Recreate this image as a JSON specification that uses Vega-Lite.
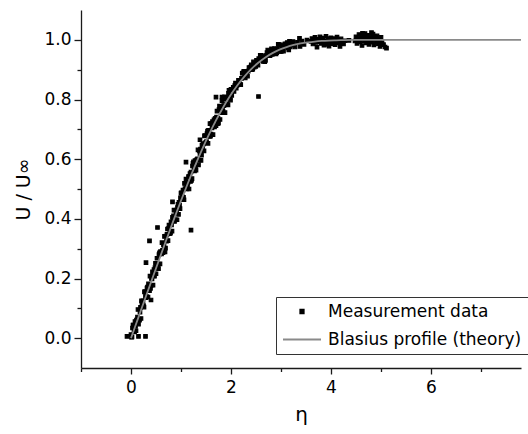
{
  "$schema": "https://vega.github.io/schema/vega-lite/v6.json",
  "width": 440,
  "height": 358,
  "autosize": {"type": "none"},
  "padding": {"left": 81, "top": 10, "right": 7, "bottom": 66},
  "background": "white",
  "config": {
    "view": {"stroke": null},
    "font": "DejaVu Sans",
    "axis": {"grid": false, "domainColor": "#1a1a1a", "domainWidth": 1.3, "tickColor": "#1a1a1a", "tickWidth": 1.3, "labelColor": "black", "titleColor": "black", "labelFont": "DejaVu Sans", "titleFont": "DejaVu Sans", "labelFontSize": 17, "titleFontWeight": "normal", "labelFlush": false, "labelOverlap": false},
    "legend": {"labelFont": "DejaVu Sans", "labelFontSize": 17, "labelColor": "black"}
  },
  "datasets": {
    "meas": [
      {"e":0,"u":0.012},{"e":0.02,"u":0.004},{"e":0.04,"u":0.044},{"e":0.06,"u":0.023},{"e":0.08,"u":0.056},{"e":0.10,"u":0.025},{"e":0.12,"u":0.062},{"e":0.14,"u":0.096},{"e":0.16,"u":0.063},{"e":0.18,"u":0.087},{"e":0.20,"u":0.066},{"e":0.22,"u":0.118},{"e":0.24,"u":0.125},{"e":0.26,"u":0.104},{"e":0.28,"u":0.156},{"e":0.30,"u":0.136},{"e":0.32,"u":0.168},{"e":0.34,"u":0.138},{"e":0.36,"u":0.175},{"e":0.38,"u":0.208},{"e":0.40,"u":0.176},{"e":0.42,"u":0.199},{"e":0.44,"u":0.178},{"e":0.46,"u":0.230},{"e":0.48,"u":0.237},{"e":0.50,"u":0.216},{"e":0.52,"u":0.268},{"e":0.54,"u":0.248},{"e":0.56,"u":0.280},{"e":0.58,"u":0.249},{"e":0.60,"u":0.286},{"e":0.62,"u":0.320},{"e":0.64,"u":0.287},{"e":0.66,"u":0.310},{"e":0.68,"u":0.289},{"e":0.70,"u":0.342},{"e":0.72,"u":0.348},{"e":0.74,"u":0.327},{"e":0.76,"u":0.379},{"e":0.78,"u":0.358},{"e":0.80,"u":0.390},{"e":0.82,"u":0.359},{"e":0.84,"u":0.396},{"e":0.86,"u":0.429},{"e":0.88,"u":0.396},{"e":0.90,"u":0.419},{"e":0.92,"u":0.397},{"e":0.94,"u":0.449},{"e":0.96,"u":0.455},{"e":0.98,"u":0.434},{"e":1.00,"u":0.486},{"e":1.02,"u":0.464},{"e":1.04,"u":0.496},{"e":1.06,"u":0.464},{"e":1.08,"u":0.501},{"e":1.10,"u":0.533},{"e":1.12,"u":0.500},{"e":1.14,"u":0.522},{"e":1.16,"u":0.500},{"e":1.18,"u":0.552},{"e":1.20,"u":0.557},{"e":1.22,"u":0.535},{"e":1.24,"u":0.586},{"e":1.26,"u":0.564},{"e":1.28,"u":0.595},{"e":1.30,"u":0.563},{"e":1.32,"u":0.599},{"e":1.34,"u":0.631},{"e":1.36,"u":0.597},{"e":1.38,"u":0.618},{"e":1.40,"u":0.596},{"e":1.42,"u":0.647},{"e":1.44,"u":0.651},{"e":1.46,"u":0.628},{"e":1.48,"u":0.679},{"e":1.50,"u":0.656},{"e":1.52,"u":0.686},{"e":1.54,"u":0.653},{"e":1.56,"u":0.688},{"e":1.58,"u":0.719},{"e":1.60,"u":0.684},{"e":1.62,"u":0.705},{"e":1.64,"u":0.682},{"e":1.66,"u":0.732},{"e":1.68,"u":0.735},{"e":1.70,"u":0.712},{"e":1.72,"u":0.761},{"e":1.74,"u":0.737},{"e":1.76,"u":0.766},{"e":1.78,"u":0.733},{"e":1.80,"u":0.767},{"e":1.82,"u":0.796},{"e":1.84,"u":0.760},{"e":1.86,"u":0.780},{"e":1.88,"u":0.756},{"e":1.90,"u":0.804},{"e":1.92,"u":0.807},{"e":1.94,"u":0.782},{"e":1.96,"u":0.831},{"e":1.98,"u":0.806},{"e":2.00,"u":0.834},
      {"e":0.01,"u":0.003},{"e":0.05,"u":0.044},{"e":0.09,"u":0.039},{"e":0.13,"u":0.071},{"e":0.17,"u":0.060},{"e":0.21,"u":0.125},{"e":0.25,"u":0.109},{"e":0.29,"u":0.140},{"e":0.33,"u":0.171},{"e":0.37,"u":0.159},{"e":0.41,"u":0.200},{"e":0.45,"u":0.209},{"e":0.49,"u":0.251},{"e":0.53,"u":0.238},{"e":0.57,"u":0.286},{"e":0.61,"u":0.282},{"e":0.65,"u":0.313},{"e":0.69,"u":0.302},{"e":0.73,"u":0.366},{"e":0.77,"u":0.350},{"e":0.81,"u":0.380},{"e":0.85,"u":0.410},{"e":0.89,"u":0.397},{"e":0.93,"u":0.438},{"e":0.97,"u":0.445},{"e":1.01,"u":0.487},{"e":1.05,"u":0.472},{"e":1.09,"u":0.519},{"e":1.13,"u":0.513},{"e":1.17,"u":0.542},{"e":1.21,"u":0.529},{"e":1.25,"u":0.591},{"e":1.29,"u":0.573},{"e":1.33,"u":0.601},{"e":1.37,"u":0.628},{"e":1.41,"u":0.613},{"e":1.45,"u":0.651},{"e":1.49,"u":0.655},{"e":1.53,"u":0.694},{"e":1.57,"u":0.676},{"e":1.61,"u":0.720},{"e":1.65,"u":0.710},{"e":1.69,"u":0.737},{"e":1.73,"u":0.719},{"e":1.77,"u":0.778},{"e":1.81,"u":0.756},{"e":1.85,"u":0.779},{"e":1.89,"u":0.803},{"e":1.93,"u":0.783},{"e":1.97,"u":0.816},
      {"e":0.03,"u":0.034},{"e":0.07,"u":0.021},{"e":0.11,"u":0.060},{"e":0.15,"u":0.047},{"e":0.19,"u":0.103},{"e":0.23,"u":0.108},{"e":0.27,"u":0.155},{"e":0.31,"u":0.139},{"e":0.35,"u":0.182},{"e":0.39,"u":0.167},{"e":0.43,"u":0.222},{"e":0.47,"u":0.208},{"e":0.51,"u":0.247},{"e":0.55,"u":0.233},{"e":0.59,"u":0.290},{"e":0.63,"u":0.294},{"e":0.67,"u":0.341},{"e":0.71,"u":0.325},{"e":0.75,"u":0.367},{"e":0.79,"u":0.352},{"e":0.83,"u":0.405},{"e":0.87,"u":0.391},{"e":0.91,"u":0.429},{"e":0.95,"u":0.415},{"e":0.99,"u":0.470},{"e":1.03,"u":0.474},{"e":1.07,"u":0.519},{"e":1.11,"u":0.502},{"e":1.15,"u":0.542},{"e":1.19,"u":0.525},{"e":1.23,"u":0.577},{"e":1.27,"u":0.561},{"e":1.31,"u":0.597},{"e":1.35,"u":0.581},{"e":1.39,"u":0.634},{"e":1.43,"u":0.635},{"e":1.47,"u":0.678},{"e":1.51,"u":0.659},{"e":1.55,"u":0.697},{"e":1.59,"u":0.677},{"e":1.63,"u":0.726},{"e":1.67,"u":0.708},{"e":1.71,"u":0.741},{"e":1.75,"u":0.721},{"e":1.79,"u":0.772},{"e":1.83,"u":0.769},{"e":1.87,"u":0.809},{"e":1.91,"u":0.786},{"e":1.95,"u":0.821},{"e":1.99,"u":0.798},
      {"e":2.03,"u":0.834},{"e":2.06,"u":0.827},{"e":2.09,"u":0.855},{"e":2.12,"u":0.847},{"e":2.15,"u":0.864},{"e":2.18,"u":0.850},{"e":2.21,"u":0.871},{"e":2.24,"u":0.889},{"e":2.27,"u":0.875},{"e":2.30,"u":0.891},{"e":2.33,"u":0.878},{"e":2.36,"u":0.907},{"e":2.39,"u":0.909},{"e":2.42,"u":0.900},{"e":2.45,"u":0.926},{"e":2.48,"u":0.917},{"e":2.51,"u":0.931},{"e":2.54,"u":0.915},{"e":2.57,"u":0.933},{"e":2.60,"u":0.948},{"e":2.63,"u":0.932},{"e":2.66,"u":0.946},{"e":2.69,"u":0.931},{"e":2.72,"u":0.957},{"e":2.75,"u":0.958},{"e":2.78,"u":0.947},{"e":2.81,"u":0.970},{"e":2.84,"u":0.958},{"e":2.87,"u":0.971},{"e":2.90,"u":0.953},{"e":2.93,"u":0.969},{"e":2.96,"u":0.984},{"e":2.99,"u":0.966},{"e":3.02,"u":0.978},{"e":3.05,"u":0.962},{"e":3.08,"u":0.987},{"e":3.11,"u":0.986},{"e":3.14,"u":0.973},{"e":3.17,"u":0.995},{"e":3.20,"u":0.982},{"e":3.24,"u":0.994},{"e":3.28,"u":0.976},
      {"e":2.015,"u":0.814},{"e":2.075,"u":0.847},{"e":2.135,"u":0.853},{"e":2.195,"u":0.850},{"e":2.255,"u":0.894},{"e":2.315,"u":0.886},{"e":2.375,"u":0.905},{"e":2.435,"u":0.902},{"e":2.495,"u":0.911},{"e":2.555,"u":0.937},{"e":2.615,"u":0.936},{"e":2.675,"u":0.927},{"e":2.735,"u":0.966},{"e":2.795,"u":0.952},{"e":2.855,"u":0.966},{"e":2.915,"u":0.957},{"e":2.975,"u":0.961},{"e":3.035,"u":0.983},{"e":3.095,"u":0.979},{"e":3.155,"u":0.966},
      {"e":2.045,"u":0.841},{"e":2.105,"u":0.838},{"e":2.165,"u":0.863},{"e":2.225,"u":0.888},{"e":2.285,"u":0.872},{"e":2.345,"u":0.895},{"e":2.405,"u":0.916},{"e":2.465,"u":0.908},{"e":2.525,"u":0.929},{"e":2.585,"u":0.948},{"e":2.645,"u":0.928},{"e":2.705,"u":0.947},{"e":2.765,"u":0.963},{"e":2.825,"u":0.951},{"e":2.885,"u":0.968},{"e":2.945,"u":0.985},{"e":3.005,"u":0.961},{"e":3.065,"u":0.977},{"e":3.125,"u":0.991},{"e":3.185,"u":0.976},{"e":3.245,"u":0.990},
      {"e":3.33,"u":0.992},{"e":3.38,"u":0.978},{"e":3.42,"u":0.996},{"e":3.46,"u":0.985},{"e":3.52,"u":0.999},{"e":3.37,"u":1.005},
      {"e":3.60,"u":0.995},{"e":3.62,"u":1.004},{"e":3.64,"u":0.986},{"e":3.66,"u":0.999},{"e":3.68,"u":1.008},{"e":3.70,"u":0.991},{"e":3.72,"u":0.975},{"e":3.74,"u":1.002},{"e":3.76,"u":0.994},{"e":3.78,"u":1.010},{"e":3.80,"u":0.988},{"e":3.82,"u":0.998},{"e":3.84,"u":1.006},{"e":3.86,"u":0.982},{"e":3.88,"u":0.996},{"e":3.90,"u":1.012},{"e":3.92,"u":0.990},{"e":3.94,"u":1.001},{"e":3.96,"u":0.979},{"e":3.98,"u":0.995},{"e":4.00,"u":1.007},{"e":4.02,"u":0.987},{"e":4.04,"u":0.999},{"e":4.06,"u":1.004},{"e":4.08,"u":0.984},{"e":4.10,"u":0.996},{"e":4.12,"u":1.009},{"e":4.14,"u":0.990},{"e":4.16,"u":0.998},{"e":4.18,"u":0.978},{"e":4.20,"u":1.003},{"e":4.22,"u":0.992},{"e":4.25,"u":0.986},{"e":4.28,"u":0.997},{"e":3.65,"u":0.992},{"e":3.73,"u":0.998},{"e":3.81,"u":1.003},{"e":3.89,"u":0.985},{"e":3.97,"u":1.004},{"e":4.05,"u":0.993},{"e":4.13,"u":1.000},{"e":4.21,"u":0.988},{"e":3.87,"u":0.993},{"e":4.01,"u":0.990},{"e":3.69,"u":1.000},{"e":4.09,"u":1.002},{"e":4.36,"u":0.998},
      {"e":4.48,"u":0.996},{"e":4.50,"u":1.010},{"e":4.52,"u":0.988},{"e":4.54,"u":1.004},{"e":4.56,"u":1.018},{"e":4.58,"u":0.993},{"e":4.60,"u":1.006},{"e":4.62,"u":0.981},{"e":4.64,"u":1.012},{"e":4.66,"u":0.997},{"e":4.68,"u":1.021},{"e":4.70,"u":0.990},{"e":4.72,"u":1.003},{"e":4.74,"u":1.015},{"e":4.76,"u":0.985},{"e":4.78,"u":0.999},{"e":4.80,"u":1.010},{"e":4.82,"u":0.992},{"e":4.84,"u":1.019},{"e":4.86,"u":0.983},{"e":4.88,"u":1.005},{"e":4.90,"u":0.995},{"e":4.92,"u":1.013},{"e":4.94,"u":0.987},{"e":4.96,"u":1.001},{"e":4.98,"u":0.978},{"e":5.00,"u":1.008},{"e":5.02,"u":0.991},{"e":5.05,"u":0.984},{"e":5.08,"u":0.976},{"e":5.11,"u":0.972},{"e":4.57,"u":1.000},{"e":4.67,"u":1.008},{"e":4.77,"u":1.002},{"e":4.87,"u":1.011},{"e":4.97,"u":0.994},{"e":4.53,"u":0.999},{"e":4.73,"u":0.991},{"e":4.83,"u":1.003},{"e":4.93,"u":1.000},{"e":4.63,"u":1.022},{"e":4.81,"u":1.024},
      {"e":-0.08,"u":0.006},{"e":0.15,"u":0.006},{"e":0.29,"u":0.006},{"e":0.37,"u":0.326},{"e":0.53,"u":0.371},{"e":0.30,"u":0.253},{"e":1.20,"u":0.362},{"e":0.40,"u":0.128},{"e":1.10,"u":0.590},{"e":0.83,"u":0.457},{"e":1.38,"u":0.665},{"e":1.70,"u":0.808},{"e":1.82,"u":0.808},{"e":2.55,"u":0.810}
    ],
    "theory": [
      {"e":0,"u":0},{"e":0.1414,"u":0.0664},{"e":0.2828,"u":0.1328},{"e":0.4243,"u":0.1989},{"e":0.5657,"u":0.2647},{"e":0.7071,"u":0.3298},{"e":0.8485,"u":0.3938},{"e":0.9899,"u":0.4563},{"e":1.1314,"u":0.5168},{"e":1.2728,"u":0.5748},{"e":1.4142,"u":0.6298},{"e":1.5556,"u":0.6813},{"e":1.6971,"u":0.7290},{"e":1.8385,"u":0.7725},{"e":1.9799,"u":0.8115},{"e":2.1213,"u":0.8461},{"e":2.2627,"u":0.8761},{"e":2.4042,"u":0.9018},{"e":2.5456,"u":0.9233},{"e":2.6870,"u":0.9411},{"e":2.8284,"u":0.9555},{"e":2.9698,"u":0.9670},{"e":3.1113,"u":0.9759},{"e":3.2527,"u":0.9827},{"e":3.3941,"u":0.9878},{"e":3.5355,"u":0.9916},{"e":3.6770,"u":0.9943},{"e":3.8184,"u":0.9962},{"e":3.9598,"u":0.9975},{"e":4.1012,"u":0.9984},{"e":4.2426,"u":0.9990},{"e":4.5255,"u":0.9996},{"e":4.8083,"u":0.9999},{"e":5.0912,"u":1.0},{"e":5.6569,"u":1.0},{"e":7.8,"u":1.0}
    ]
  },
  "encoding": {
    "x": {"field": "e", "type": "quantitative", "scale": {"domain": [-1, 7.8], "nice": false, "zero": false},
      "axis": {"title": "η", "titleFontSize": 20, "titlePadding": 9, "values": [-1,0,1,2,3,4,5,6,7], "labelExpr": "datum.value % 2 == 0 ? format(datum.value, 'd') : ''", "tickSize": {"condition": {"test": "datum.value % 2 == 0", "value": 6}, "value": 3.5}, "labelPadding": 5}},
    "y": {"field": "u", "type": "quantitative", "scale": {"domain": [-0.1, 1.1], "nice": false, "zero": false},
      "axis": {"title": "U / U∞", "titleFontSize": 19, "titlePadding": 10, "values": [0,0.1,0.2,0.3,0.4,0.5,0.6,0.7,0.8,0.9,1.0], "labelExpr": "round(datum.value*10) % 2 == 0 ? format(datum.value, '.1f') : ''", "tickSize": {"condition": {"test": "round(datum.value*10) % 2 == 0", "value": 7}, "value": 4}, "labelPadding": 3}}
  },
  "layer": [
    {
      "data": {"name": "meas"},
      "mark": {"type": "point", "filled": false, "fill": "black", "fillOpacity": 1, "strokeWidth": 1.2, "opacity": 1},
      "encoding": {
        "color": {"datum": "Measurement data", "type": "nominal",
          "scale": {"domain": ["Measurement data", "Blasius profile (theory)"], "range": ["black", "#8a8a8a"]},
          "legend": {"title": null, "orient": "none", "legendX": 195, "legendY": 287, "direction": "vertical",
            "strokeColor": "#333", "fillColor": "white", "padding": 6, "rowPadding": 10, "clipHeight": 17,
            "labelOffset": 6, "symbolStrokeWidth": 1.8, "labelLimit": 400, "symbolOpacity": 1}
        },
        "shape": {"datum": "Measurement data", "type": "nominal",
          "scale": {"domain": ["Measurement data", "Blasius profile (theory)"], "range": ["square", "stroke"]},
          "legend": {"title": null, "orient": "none", "legendX": 195, "legendY": 287, "direction": "vertical",
            "strokeColor": "#333", "fillColor": "white", "padding": 6, "rowPadding": 10, "clipHeight": 17,
            "labelOffset": 6, "symbolStrokeWidth": 1.8, "labelLimit": 400, "symbolOpacity": 1}
        },
        "size": {"datum": "Measurement data", "type": "nominal",
          "scale": {"type": "point", "padding": 0, "domain": ["Measurement data", "Blasius profile (theory)"], "range": [12, 1444]},
          "legend": {"title": null, "orient": "none", "legendX": 195, "legendY": 287, "direction": "vertical",
            "strokeColor": "#333", "fillColor": "white", "padding": 6, "rowPadding": 10, "clipHeight": 17,
            "labelOffset": 6, "symbolStrokeWidth": 1.8, "labelLimit": 400, "symbolOpacity": 1}
        }
      }
    },
    {
      "data": {"name": "theory"},
      "mark": {"type": "line", "strokeWidth": 1.8, "interpolate": "monotone"},
      "encoding": {
        "color": {"datum": "Blasius profile (theory)", "type": "nominal"}
      }
    }
  ]
}
